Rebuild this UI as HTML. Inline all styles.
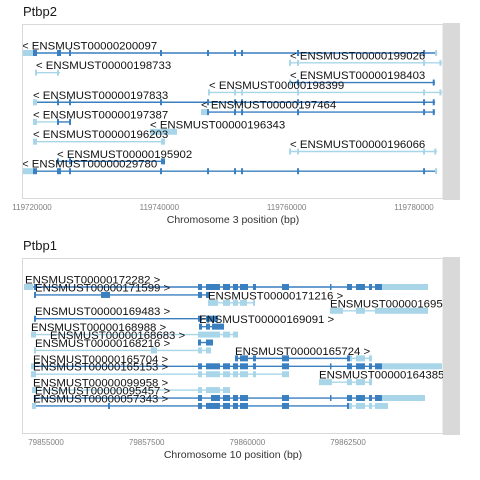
<!DOCTYPE html>
<html><head><meta charset="utf-8"><style>
body{margin:0;background:#fff;}
svg{display:block;font-family:"Liberation Sans",sans-serif;}
</style></head><body>
<svg id="chart" width="480" height="480" viewBox="0 0 480 480" xmlns="http://www.w3.org/2000/svg"></svg>
<script>
// ---------- Ptbp2 (top) data ----------
const names2 = ["ENSMUST00000200097","ENSMUST00000199026","ENSMUST00000198733","ENSMUST00000198403","ENSMUST00000198399","ENSMUST00000197833","ENSMUST00000197464","ENSMUST00000197387","ENSMUST00000196343","ENSMUST00000196203","ENSMUST00000196066","ENSMUST00000195902","ENSMUST00000029780"];
const labelX2 = [119718429,119760532,119720628,119760532,119747807,119720157,119746550,119720157,119738538,119720157,119760532,119723930,119718429];
const lines2 = [
 [[119718429,119783626,"D"]],
 [[119760532,119784412,"L"]],
 [[119720628,119724400,"L"]],
 [[119760532,119783311,"D"]],
 [[119747807,119784412,"L"]],
 [[119720157,119783311,"D"]],
 [[119747650,119783311,"D"]],
 [[119720157,119724085,"L"],[119724085,119726100,"D"]],
 [],
 [[119720157,119740894,"L"]],
 [[119760532,119783626,"L"]],
 [[119724085,119740580,"D"]],
 [[119718429,119783626,"D"]]
];
const exons2 = [
 [[119718429,119720157,"L"],[119720157,119720785,"D"],[119724085,"D"],[119724399,"D"],[119725970,"D"],[119740266,"D"],[119747650,"D"],[119751891,"D"],[119752991,"D"],[119761789,"D"],[119781583,"D"],[119783311,119783626,"L"]],
 [[119760532,"L"],[119761789,"L"],[119781583,"L"],[119784150,"L"]],
 [[119720628,"L"],[119724085,"L"]],
 [[119760532,"L"],[119761789,"D"],[119783100,"D"]],
 [[119747807,"L"],[119751891,"L"],[119752991,"L"],[119761789,"L"],[119781583,"L"],[119784150,"L"]],
 [[119720157,119720785,"L"],[119724085,"D"],[119725970,"D"],[119740266,"D"],[119747650,"D"],[119751891,"D"],[119752991,"D"],[119761789,"D"],[119781583,"D"],[119783100,"D"]],
 [[119746550,119747650,"L"],[119747650,"D"],[119751891,"D"],[119752991,"D"],[119761789,"D"],[119781583,"D"],[119783100,"D"]],
 [[119720157,119720785,"L"],[119724085,"D"],[119725970,"D"]],
 [[119738538,119742780,"L"]],
 [[119720157,119720785,"L"],[119740266,119740894,"L"]],
 [[119760532,"L"],[119761789,"L"],[119781583,"L"],[119783350,"L"]],
 [[119724085,"D"],[119725970,"D"],[119740266,119740894,"D"]],
 [[119718429,119720157,"L"],[119720157,119720785,"D"],[119724085,"D"],[119724399,"D"],[119725970,"D"],[119740266,"D"],[119747650,"D"],[119751891,"D"],[119752991,"D"],[119761789,"D"],[119781583,"D"],[119783311,119783626,"L"]]
];
const ticks2 = [119720000,119740000,119760000,119780000];

// ---------- Ptbp1 (bottom) data ----------
const core1 = [[79858774,79858873,"D"],[79858973,79859320,"D"],[79859395,79859569,"D"],[79859643,79859768,"D"],[79859817,79860016,"D"],[79860140,79860214,"D"],[79860860,79861034,"D"],[79862052,79862077,"D"],[79862474,79862598,"D"],[79862698,79862921,"D"],[79863021,79863095,"D"],[79863170,79863343,"D"]];
const core1L = [[79858774,79858873,"L"],[79858973,79859320,"L"],[79859395,79859569,"L"],[79859643,79859768,"L"],[79859817,79860016,"L"],[79860140,79860214,"L"],[79860860,79861034,"L"]];
const names1 = ["ENSMUST00000172282","ENSMUST00000171599","ENSMUST00000171216","ENSMUST00000169536","ENSMUST00000169483","ENSMUST00000169091","ENSMUST00000168988","ENSMUST00000168683","ENSMUST00000168216","ENSMUST00000165724","ENSMUST00000165704","ENSMUST00000165153","ENSMUST00000164385","ENSMUST00000099958","ENSMUST00000095457","ENSMUST00000057343"];
const labelX1 = [79854480,79854727,79859022,79862052,79854727,79858799,79854628,79855100,79854727,79859693,79854677,79854677,79861779,79854677,79854727,79854677];
const lines1 = [
 [[79854677,79863343,"D"]],
 [[79854727,79859072,"D"]],
 [[79859022,79860190,"L"]],
 [[79862052,79864486,"L"]],
 [[79854727,79859271,"D"]],
 [[79858799,79859420,"D"]],
 [[79854652,79859768,"L"]],
 [[79858774,79859147,"D"]],
 [[79854727,79859097,"L"]],
 [[79859693,79862549,"D"],[79862549,79863095,"L"]],
 [[79854677,79863343,"D"]],
 [[79854677,79861034,"L"]],
 [[79861779,79863095,"L"]],
 [[79854677,79859569,"L"]],
 [[79854727,79863343,"D"]],
 [[79854677,79862524,"D"],[79862524,79863492,"L"]]
];
const exons1 = [
 [[79854454,79854677,"L"],[79854727,"D"],...core1,[79863343,79864486,"L"]],
 [[79854727,"D"],[79856366,79856589,"D"],[79858774,79858873,"D"],[79858973,79859072,"D"]],
 [[79859022,79859271,"L"],[79859395,79859569,"L"],[79859643,79859768,"L"],[79859817,79859991,"L"],[79860140,79860190,"L"]],
 [[79862052,79862375,"L"],[79862698,79862921,"L"],[79863170,79864486,"L"]],
 [[79854727,"D"],[79858774,79858873,"D"],[79858973,79859271,"D"]],
 [[79858799,79858873,"D"],[79858973,79859072,"D"],[79859122,79859420,"D"]],
 [[79854628,79854752,"L"],[79858774,79859320,"L"],[79859395,79859569,"L"],[79859643,79859768,"L"]],
 [[79858774,79858849,"D"],[79858973,79859147,"D"]],
 [[79854727,"L"],[79857607,79857756,"L"],[79858774,79858873,"L"],[79858973,79859097,"L"]],
 [[79859693,79859768,"D"],[79859817,79860016,"D"],[79860140,79860214,"D"],[79860860,79861034,"D"],[79862474,79862549,"D"],[79862549,79862598,"L"],[79862698,79862921,"L"],[79863021,79863095,"L"]],
 [[79854628,79854727,"L"],...core1,[79863343,79864833,"L"]],
 [[79854628,79854752,"L"],...core1L],
 [[79861779,79862101,"L"],[79862474,79862598,"L"],[79862698,79862921,"L"],[79863021,79863095,"L"]],
 [[79854652,79854752,"L"],[79858774,79858873,"L"],[79858973,79859320,"L"],[79859395,79859569,"L"]],
 [[79854727,"D"],[79858774,79858873,"D"],[79859097,79859320,"D"],[79859395,79859569,"D"],[79859643,79859768,"D"],[79859817,79860016,"D"],[79860860,79861034,"D"],[79862052,79862077,"D"],[79862474,79862598,"D"],[79862698,79862921,"D"],[79863021,79863095,"D"],[79863170,79863343,"D"],[79863343,79864411,"L"]],
 [[79854652,79854752,"L"],[79856564,"D"],[79858774,79858873,"D"],[79858973,79859320,"D"],[79859395,79859569,"D"],[79859643,79859768,"D"],[79859817,79860016,"D"],[79860860,79861034,"D"],[79862474,79862524,"D"],[79862524,79862598,"L"],[79862698,79862921,"L"],[79863021,79863095,"L"],[79863170,79863492,"L"]]
];
const ticks1 = [79855000,79857500,79860000,79862500];

const NS = "http://www.w3.org/2000/svg";
const svg = document.getElementById("chart");
const COL = {D:"#3a7fc0", L:"#a8d6e8"};
function mk(tag, attrs, parent){const e=document.createElementNS(NS,tag);for(const k in attrs)e.setAttribute(k,attrs[k]);(parent||svg).appendChild(e);return e;}

function panel(cfg){
  const g = mk("g",{});
  
  
  const t = mk("text",{x:23,y:cfg.titleY,"font-size":13,fill:"#1a1a1a"},g);
  
  
  t.textContent = cfg.title;
  const strip = mk("rect",{x:443,y:cfg.top-1,width:17,height:cfg.bottom-cfg.top+2,fill:"#d9d9d9"},g);
  
  
  const bg = mk("rect",{x:22.5,y:cfg.top+0.5,width:420.5,height:cfg.bottom-cfg.top-1,fill:"#fff",stroke:"#d9d9d9","stroke-width":1},g);
  
  
  const cid = "clip-"+cfg.key;
  const cp = mk("clipPath",{id:cid},g);
  mk("rect",{x:23,y:cfg.top,width:420,height:cfg.bottom-cfg.top},cp);
  const xs = v => cfg.x0px + (v-cfg.x0)*cfg.scale;
  const inner = mk("g",{"clip-path":"url(#"+cid+")"},g);
  cfg.names.forEach((nm,i)=>{
    const y = cfg.row0 + i*cfg.rowStep;
    const tg = mk("g",{},inner);
    
    
    cfg.lines[i].forEach(l=>{
      const ln = mk("line",{x1:xs(l[0]),x2:xs(l[1]),y1:y,y2:y,stroke:COL[l[2]],"stroke-width":1.4},tg);
      
      
    });
    cfg.exons[i].forEach(ex=>{
      let x1,w,type;
      if(ex.length===2){x1=xs(ex[0])-1;w=2;type=ex[1];}
      else {x1=xs(ex[0]);w=Math.max(1.5,xs(ex[1])-xs(ex[0]));type=ex[2];}
      const r = mk("rect",{x:x1,y:y-3,width:w,height:6,fill:COL[type]},tg);
      
      
    });
    const lb = mk("text",{x:xs(cfg.labelX[i]),y:y-3.5,"font-size":11.4,fill:"#111"},tg);
    
    
    lb.textContent = cfg.fwd ? nm+" >" : "< "+nm;
  });
  cfg.ticks.forEach(tv=>{
    const tx = mk("text",{x:xs(tv),y:cfg.bottom+11,"font-size":8,fill:"#808080","text-anchor":"middle"},g);
    
    
    tx.textContent = tv;
  });
  const at = mk("text",{x:233,y:cfg.bottom+24,"font-size":10.5,fill:"#333","text-anchor":"middle"},g);
  
  
  at.textContent = cfg.axisTitle;
}
panel({key:"ptbp2",title:"Ptbp2",titleY:16,top:24,bottom:199,x0:119720000,x0px:32,scale:0.0063665,
  row0:53,rowStep:9.85,names:names2,labelX:labelX2,lines:lines2,exons:exons2,ticks:ticks2,fwd:false,
  axisTitle:"Chromosome 3 position (bp)"});
panel({key:"ptbp1",title:"Ptbp1",titleY:250,top:258,bottom:434,x0:79855000,x0px:46,scale:0.04027,
  row0:287,rowStep:7.93,names:names1,labelX:labelX1,lines:lines1,exons:exons1,ticks:ticks1,fwd:true,
  axisTitle:"Chromosome 10 position (bp)"});
</script>
</body></html>
